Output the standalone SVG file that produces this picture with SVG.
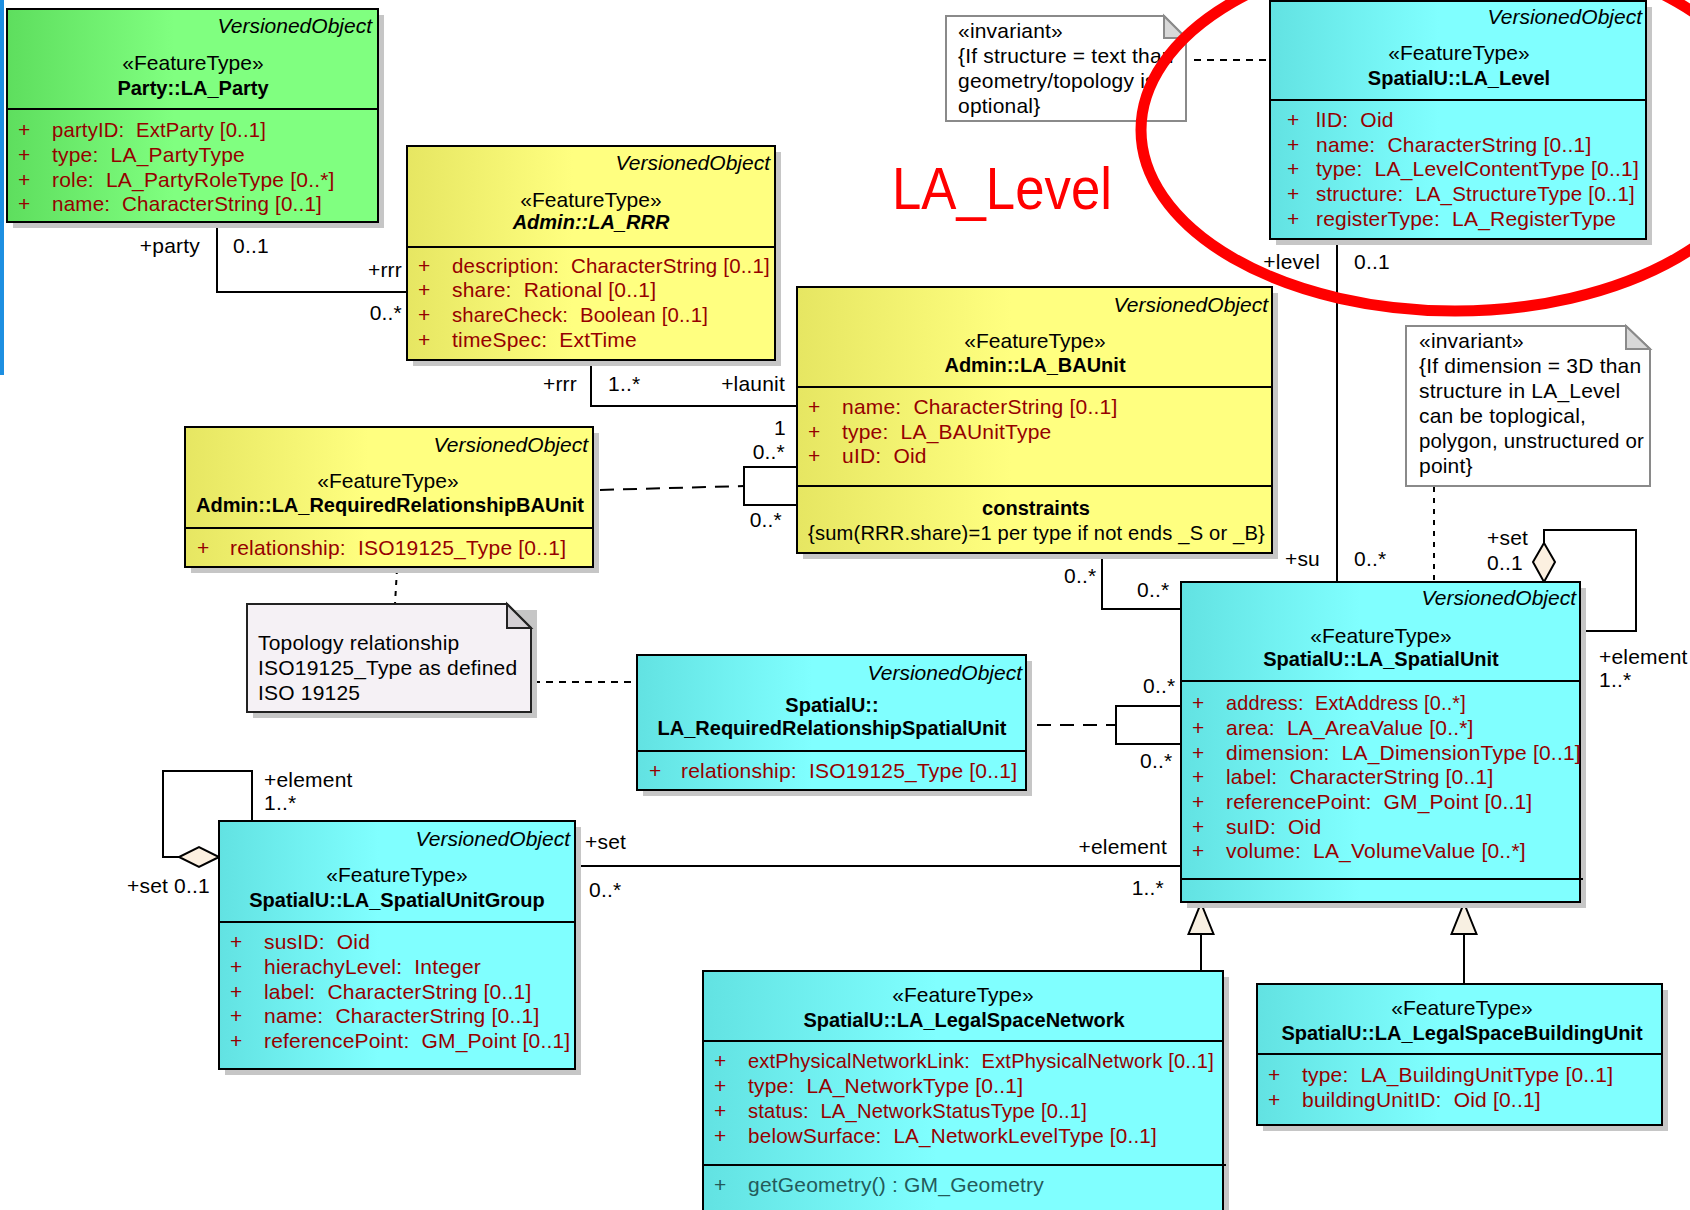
<svg xmlns="http://www.w3.org/2000/svg" width="1690" height="1210" viewBox="0 0 1690 1210">
  <defs>
    <linearGradient id="gCyan" x1="0" y1="0" x2="1" y2="0">
      <stop offset="0" stop-color="#62e2e2"/>
      <stop offset="0.45" stop-color="#80ffff"/>
      <stop offset="1" stop-color="#80ffff"/>
    </linearGradient>
    <linearGradient id="gYellow" x1="0" y1="0" x2="1" y2="0">
      <stop offset="0" stop-color="#e6e662"/>
      <stop offset="0.45" stop-color="#ffff80"/>
      <stop offset="1" stop-color="#ffff80"/>
    </linearGradient>
    <linearGradient id="gGreen" x1="0" y1="0" x2="1" y2="0">
      <stop offset="0" stop-color="#5ede5e"/>
      <stop offset="0.45" stop-color="#80ff80"/>
      <stop offset="1" stop-color="#80ff80"/>
    </linearGradient>
    <style>
      text { font-family: "Liberation Sans", Arial, sans-serif; font-size: 21px; letter-spacing: 0.2px; white-space: pre; fill: #000; }
      .vo { font-style: italic; text-anchor: end; letter-spacing: 0; }
      .st { text-anchor: middle; letter-spacing: 0; }
      .nm { font-weight: bold; font-size: 20px; text-anchor: middle; letter-spacing: 0; }
      .at { fill: #960000; }
      .op { fill: #245a5a; }
      .end { text-anchor: end; }
      .box { stroke: #000; stroke-width: 2; }
      .cy { fill: url(#gCyan); }
      .ye { fill: url(#gYellow); }
      .gr { fill: url(#gGreen); }
      .sh { fill: #c6c6c6; }
      .sep { stroke: #000; stroke-width: 2; }
      .ln { stroke: #000; stroke-width: 2; fill: none; }
      .dl { stroke: #000; stroke-width: 2; fill: none; stroke-dasharray: 14 9; }
      .ds { stroke: #000; stroke-width: 2; fill: none; stroke-dasharray: 7 6; }
      .dt { stroke: #000; stroke-width: 2; fill: none; stroke-dasharray: 5 6; }
      .agg { fill: #fcf0e0; stroke: #000; stroke-width: 2; }
      .gen { fill: #f8f0e2; stroke: #000; stroke-width: 2; }
      .note { fill: #fff; stroke: #8a8a8a; stroke-width: 2; }
      .note2 { fill: #f5f1f5; stroke: #222; stroke-width: 2; }
      .fold { fill: #d8d8d8; stroke: #8a8a8a; stroke-width: 2; }
      .fold2 { fill: #d4d0d4; stroke: #222; stroke-width: 2; }
      .big { font-size: 60px; fill: #ff0000; letter-spacing: 0; }
    </style>
  </defs>

  <rect width="1690" height="1210" fill="#fff"/>
  <rect x="0" y="0" width="4" height="375" fill="#1d8fe1"/>

  <!-- associations, dependencies and generalizations -->
  <g id="connectors">
    <!-- Party - RRR -->
    <polyline class="ln" points="217,222 217,292 407,292"/>
    <text class="end" x="200" y="253">+party</text>
    <text x="233" y="253">0..1</text>
    <text class="end" x="402" y="277">+rrr</text>
    <text class="end" x="402" y="320">0..*</text>

    <!-- RRR - BAUnit -->
    <polyline class="ln" points="591,360 591,406 797,406"/>
    <text class="end" x="577" y="391">+rrr</text>
    <text x="608" y="391">1..*</text>
    <text class="end" x="785" y="391">+launit</text>
    <text class="end" x="786" y="435">1</text>

    <!-- BAUnit required relationship loop -->
    <polyline class="ln" points="797,467 744,467 744,505 797,505"/>
    <text class="end" x="785" y="459">0..*</text>
    <text class="end" x="782" y="527">0..*</text>
    <line class="dl" x1="600" y1="490" x2="744" y2="486"/>

    <!-- BAUnit - SpatialUnit -->
    <polyline class="ln" points="1102,553 1102,609 1181,609"/>
    <text x="1064" y="583">0..*</text>
    <text x="1137" y="597">0..*</text>

    <!-- SpatialUnit required relationship loop -->
    <polyline class="ln" points="1181,706 1116,706 1116,744 1181,744"/>
    <text x="1143" y="693">0..*</text>
    <text x="1140" y="768">0..*</text>
    <line class="dl" x1="1037" y1="725" x2="1116" y2="725"/>

    <!-- Level - SpatialUnit -->
    <line class="ln" x1="1337" y1="239" x2="1337" y2="582"/>
    <text class="end" x="1320" y="269">+level</text>
    <text x="1354" y="269">0..1</text>
    <text class="end" x="1320" y="566">+su</text>
    <text x="1354" y="566">0..*</text>

    <!-- SpatialUnit self aggregation -->
    <polyline class="ln" points="1544,543 1544,530 1636,530 1636,631 1580,631"/>
    <polygon class="agg" points="1544,543 1555,562 1544,582 1533,562"/>
    <text x="1487" y="545">+set</text>
    <text x="1487" y="570">0..1</text>
    <text x="1599" y="664">+element</text>
    <text x="1599" y="687">1..*</text>

    <!-- SpatialUnitGroup self aggregation -->
    <polyline class="ln" points="179,857 163,857 163,771 252,771 252,821"/>
    <polygon class="agg" points="219,857 199,867 179,857 199,847"/>
    <text x="264" y="787">+element</text>
    <text x="264" y="810">1..*</text>
    <text x="127" y="893">+set 0..1</text>

    <!-- SpatialUnitGroup - SpatialUnit -->
    <line class="ln" x1="575" y1="866" x2="1181" y2="866"/>
    <text x="585" y="849">+set</text>
    <text x="589" y="897">0..*</text>
    <text class="end" x="1167" y="854">+element</text>
    <text class="end" x="1164" y="895">1..*</text>

    <!-- generalizations -->
    <line class="ln" x1="1201" y1="934" x2="1201" y2="971"/>
    <polygon class="gen" points="1201,903 1213.5,934 1188.5,934"/>
    <line class="ln" x1="1464" y1="934" x2="1464" y2="984"/>
    <polygon class="gen" points="1464,903 1476.5,934 1451.5,934"/>

    <!-- note links -->
    <line class="ds" x1="1194" y1="60" x2="1270" y2="60"/>
    <line class="dt" x1="1434" y1="487" x2="1434" y2="582"/>
    <line class="dt" x1="397" y1="569" x2="395" y2="604"/>
    <line class="ds" x1="533" y1="682" x2="637" y2="682"/>
  </g>

  <!-- Party::LA_Party -->
  <g id="LA_Party">
    <rect class="sh" x="13" y="15" width="371" height="213"/>
    <rect class="box gr" x="7" y="9" width="371" height="213"/>
    <line class="sep" x1="7" y1="109" x2="378" y2="109"/>
    <text class="vo" x="372" y="33">VersionedObject</text>
    <text class="st" x="193" y="70">«FeatureType»</text>
    <text class="nm" x="193" y="95">Party::LA_Party</text>
    <text class="at"><tspan x="18" y="137">+</tspan><tspan x="52" y="137" textLength="214" lengthAdjust="spacingAndGlyphs">partyID:  ExtParty [0..1]</tspan></text>
    <text class="at"><tspan x="18" y="162">+</tspan><tspan x="52" y="162">type:  LA_PartyType</tspan></text>
    <text class="at"><tspan x="18" y="187">+</tspan><tspan x="52" y="187">role:  LA_PartyRoleType [0..*]</tspan></text>
    <text class="at"><tspan x="18" y="211">+</tspan><tspan x="52" y="211" textLength="270" lengthAdjust="spacingAndGlyphs">name:  CharacterString [0..1]</tspan></text>
  </g>

  <!-- Admin::LA_RRR -->
  <g id="LA_RRR">
    <rect class="sh" x="413" y="152" width="368" height="214"/>
    <rect class="box ye" x="407" y="146" width="368" height="214"/>
    <line class="sep" x1="407" y1="247" x2="775" y2="247"/>
    <text class="vo" x="770" y="170">VersionedObject</text>
    <text class="st" x="591" y="207">«FeatureType»</text>
    <text class="nm" x="591" y="229" font-style="italic">Admin::LA_RRR</text>
    <text class="at"><tspan x="418" y="273">+</tspan><tspan x="452" y="273" textLength="318" lengthAdjust="spacingAndGlyphs">description:  CharacterString [0..1]</tspan></text>
    <text class="at"><tspan x="418" y="297">+</tspan><tspan x="452" y="297">share:  Rational [0..1]</tspan></text>
    <text class="at"><tspan x="418" y="322">+</tspan><tspan x="452" y="322" textLength="256" lengthAdjust="spacingAndGlyphs">shareCheck:  Boolean [0..1]</tspan></text>
    <text class="at"><tspan x="418" y="347">+</tspan><tspan x="452" y="347">timeSpec:  ExtTime</tspan></text>
  </g>

  <!-- Admin::LA_BAUnit -->
  <g id="LA_BAUnit">
    <rect class="sh" x="803" y="293" width="475" height="266"/>
    <rect class="box ye" x="797" y="287" width="475" height="266"/>
    <line class="sep" x1="797" y1="387" x2="1272" y2="387"/>
    <line class="sep" x1="797" y1="486" x2="1272" y2="486"/>
    <text class="vo" x="1268" y="312">VersionedObject</text>
    <text class="st" x="1035" y="348">«FeatureType»</text>
    <text class="nm" x="1035" y="372">Admin::LA_BAUnit</text>
    <text class="at"><tspan x="808" y="414">+</tspan><tspan x="842" y="414">name:  CharacterString [0..1]</tspan></text>
    <text class="at"><tspan x="808" y="439">+</tspan><tspan x="842" y="439">type:  LA_BAUnitType</tspan></text>
    <text class="at"><tspan x="808" y="463">+</tspan><tspan x="842" y="463">uID:  Oid</tspan></text>
    <text class="nm" x="1036" y="515">constraints</text>
    <text x="808" y="540" textLength="457" lengthAdjust="spacingAndGlyphs">{sum(RRR.share)=1 per type if not ends _S or _B}</text>
  </g>

  <!-- SpatialU::LA_Level -->
  <g id="LA_Level">
    <rect class="sh" x="1276" y="7" width="376" height="238"/>
    <rect class="box cy" x="1270" y="1" width="376" height="238"/>
    <line class="sep" x1="1270" y1="100" x2="1646" y2="100"/>
    <text class="vo" x="1642" y="24">VersionedObject</text>
    <text class="st" x="1459" y="60">«FeatureType»</text>
    <text class="nm" x="1459" y="85">SpatialU::LA_Level</text>
    <text class="at"><tspan x="1287" y="127">+</tspan><tspan x="1316" y="127">lID:  Oid</tspan></text>
    <text class="at"><tspan x="1287" y="152">+</tspan><tspan x="1316" y="152">name:  CharacterString [0..1]</tspan></text>
    <text class="at"><tspan x="1287" y="176">+</tspan><tspan x="1316" y="176">type:  LA_LevelContentType [0..1]</tspan></text>
    <text class="at"><tspan x="1287" y="201">+</tspan><tspan x="1316" y="201" textLength="319" lengthAdjust="spacingAndGlyphs">structure:  LA_StructureType [0..1]</tspan></text>
    <text class="at"><tspan x="1287" y="226">+</tspan><tspan x="1316" y="226">registerType:  LA_RegisterType</tspan></text>
  </g>

  <!-- Admin::LA_RequiredRelationshipBAUnit -->
  <g id="LA_RequiredRelationshipBAUnit">
    <rect class="sh" x="191" y="433" width="408" height="140"/>
    <rect class="box ye" x="185" y="427" width="408" height="140"/>
    <line class="sep" x1="185" y1="528" x2="593" y2="528"/>
    <text class="vo" x="588" y="452">VersionedObject</text>
    <text class="st" x="388" y="488">«FeatureType»</text>
    <text class="nm" x="390" y="512">Admin::LA_RequiredRelationshipBAUnit</text>
    <text class="at"><tspan x="197" y="555">+</tspan><tspan x="230" y="555">relationship:  ISO19125_Type [0..1]</tspan></text>
  </g>

  <!-- SpatialU::LA_RequiredRelationshipSpatialUnit -->
  <g id="LA_RequiredRelationshipSpatialUnit">
    <rect class="sh" x="643" y="661" width="389" height="135"/>
    <rect class="box cy" x="637" y="655" width="389" height="135"/>
    <line class="sep" x1="637" y1="751" x2="1026" y2="751"/>
    <text class="vo" x="1022" y="680">VersionedObject</text>
    <text class="nm" x="832" y="712">SpatialU::</text>
    <text class="nm" x="832" y="735">LA_RequiredRelationshipSpatialUnit</text>
    <text class="at"><tspan x="649" y="778">+</tspan><tspan x="681" y="778">relationship:  ISO19125_Type [0..1]</tspan></text>
  </g>

  <!-- SpatialU::LA_SpatialUnitGroup -->
  <g id="LA_SpatialUnitGroup">
    <rect class="sh" x="225" y="827" width="356" height="248"/>
    <rect class="box cy" x="219" y="821" width="356" height="248"/>
    <line class="sep" x1="219" y1="922" x2="575" y2="922"/>
    <text class="vo" x="570" y="846">VersionedObject</text>
    <text class="st" x="397" y="882">«FeatureType»</text>
    <text class="nm" x="397" y="907">SpatialU::LA_SpatialUnitGroup</text>
    <text class="at"><tspan x="230" y="949">+</tspan><tspan x="264" y="949">susID:  Oid</tspan></text>
    <text class="at"><tspan x="230" y="974">+</tspan><tspan x="264" y="974">hierachyLevel:  Integer</tspan></text>
    <text class="at"><tspan x="230" y="999">+</tspan><tspan x="264" y="999">label:  CharacterString [0..1]</tspan></text>
    <text class="at"><tspan x="230" y="1023">+</tspan><tspan x="264" y="1023">name:  CharacterString [0..1]</tspan></text>
    <text class="at"><tspan x="230" y="1048">+</tspan><tspan x="264" y="1048">referencePoint:  GM_Point [0..1]</tspan></text>
  </g>

  <!-- SpatialU::LA_SpatialUnit -->
  <g id="LA_SpatialUnit">
    <rect class="sh" x="1187" y="588" width="399" height="320"/>
    <rect class="box cy" x="1181" y="582" width="399" height="320"/>
    <line class="sep" x1="1181" y1="681" x2="1580" y2="681"/>
    <line class="sep" x1="1181" y1="879" x2="1583" y2="879"/>
    <text class="vo" x="1576" y="605">VersionedObject</text>
    <text class="st" x="1381" y="643">«FeatureType»</text>
    <text class="nm" x="1381" y="666">SpatialU::LA_SpatialUnit</text>
    <text class="at"><tspan x="1192" y="710">+</tspan><tspan x="1226" y="710" textLength="240" lengthAdjust="spacingAndGlyphs">address:  ExtAddress [0..*]</tspan></text>
    <text class="at"><tspan x="1192" y="735">+</tspan><tspan x="1226" y="735">area:  LA_AreaValue [0..*]</tspan></text>
    <text class="at"><tspan x="1192" y="760">+</tspan><tspan x="1226" y="760">dimension:  LA_DimensionType [0..1]</tspan></text>
    <text class="at"><tspan x="1192" y="784">+</tspan><tspan x="1226" y="784">label:  CharacterString [0..1]</tspan></text>
    <text class="at"><tspan x="1192" y="809">+</tspan><tspan x="1226" y="809">referencePoint:  GM_Point [0..1]</tspan></text>
    <text class="at"><tspan x="1192" y="834">+</tspan><tspan x="1226" y="834">suID:  Oid</tspan></text>
    <text class="at"><tspan x="1192" y="858">+</tspan><tspan x="1226" y="858">volume:  LA_VolumeValue [0..*]</tspan></text>
  </g>

  <!-- SpatialU::LA_LegalSpaceNetwork -->
  <g id="LA_LegalSpaceNetwork">
    <rect class="sh" x="709" y="977" width="520" height="260"/>
    <rect class="box cy" x="703" y="971" width="520" height="260"/>
    <line class="sep" x1="703" y1="1041" x2="1223" y2="1041"/>
    <line class="sep" x1="703" y1="1165" x2="1226" y2="1165"/>
    <text class="st" x="963" y="1002">«FeatureType»</text>
    <text class="nm" x="964" y="1027">SpatialU::LA_LegalSpaceNetwork</text>
    <text class="at"><tspan x="714" y="1068">+</tspan><tspan x="748" y="1068" textLength="466" lengthAdjust="spacingAndGlyphs">extPhysicalNetworkLink:  ExtPhysicalNetwork [0..1]</tspan></text>
    <text class="at"><tspan x="714" y="1093">+</tspan><tspan x="748" y="1093">type:  LA_NetworkType [0..1]</tspan></text>
    <text class="at"><tspan x="714" y="1118">+</tspan><tspan x="748" y="1118" textLength="339" lengthAdjust="spacingAndGlyphs">status:  LA_NetworkStatusType [0..1]</tspan></text>
    <text class="at"><tspan x="714" y="1143">+</tspan><tspan x="748" y="1143" textLength="409" lengthAdjust="spacingAndGlyphs">belowSurface:  LA_NetworkLevelType [0..1]</tspan></text>
    <text class="op"><tspan x="714" y="1192">+</tspan><tspan x="748" y="1192">getGeometry() : GM_Geometry</tspan></text>
  </g>

  <!-- SpatialU::LA_LegalSpaceBuildingUnit -->
  <g id="LA_LegalSpaceBuildingUnit">
    <rect class="sh" x="1263" y="990" width="405" height="141"/>
    <rect class="box cy" x="1257" y="984" width="405" height="141"/>
    <line class="sep" x1="1257" y1="1054" x2="1662" y2="1054"/>
    <text class="st" x="1462" y="1015">«FeatureType»</text>
    <text class="nm" x="1462" y="1040">SpatialU::LA_LegalSpaceBuildingUnit</text>
    <text class="at"><tspan x="1268" y="1082">+</tspan><tspan x="1302" y="1082">type:  LA_BuildingUnitType [0..1]</tspan></text>
    <text class="at"><tspan x="1268" y="1107">+</tspan><tspan x="1302" y="1107">buildingUnitID:  Oid [0..1]</tspan></text>
  </g>

  <!-- invariant note on LA_Level -->
  <g id="note_level_structure">
    <polygon class="note" points="946,16 1164,16 1186,38 1186,121 946,121"/>
    <polygon class="fold" points="1164,16 1164,38 1186,38"/>
    <text x="958" y="38">«invariant»</text>
    <text x="958" y="63">{If structure = text than</text>
    <text x="958" y="88">geometry/topology is</text>
    <text x="958" y="113">optional}</text>
  </g>

  <!-- invariant note on LA_SpatialUnit -->
  <g id="note_dimension">
    <polygon class="note" points="1406,326 1626,326 1650,349 1650,486 1406,486"/>
    <polygon class="fold" points="1626,326 1626,349 1650,349"/>
    <text x="1419" y="348">«invariant»</text>
    <text x="1419" y="373">{If dimension = 3D than</text>
    <text x="1419" y="398">structure in LA_Level</text>
    <text x="1419" y="423">can be toplogical,</text>
    <text x="1419" y="448" textLength="225" lengthAdjust="spacingAndGlyphs">polygon, unstructured or</text>
    <text x="1419" y="473">point}</text>
  </g>

  <!-- topology note -->
  <g id="note_topology">
    <polygon class="sh" points="253,610 537,610 537,718 253,718"/>
    <polygon class="note2" points="247,604 507,604 531,628 531,712 247,712"/>
    <polygon class="fold2" points="507,604 507,628 531,628"/>
    <text x="258" y="650">Topology relationship</text>
    <text x="258" y="675">ISO19125_Type as defined</text>
    <text x="258" y="700">ISO 19125</text>
  </g>

  <!-- highlight of LA_Level -->
  <g id="highlight">
    <text class="big" x="892" y="209" textLength="220" lengthAdjust="spacingAndGlyphs">LA_Level</text>
    <ellipse cx="1455" cy="130" rx="314" ry="181" fill="none" stroke="#ff0000" stroke-width="11"/>
  </g>
</svg>
